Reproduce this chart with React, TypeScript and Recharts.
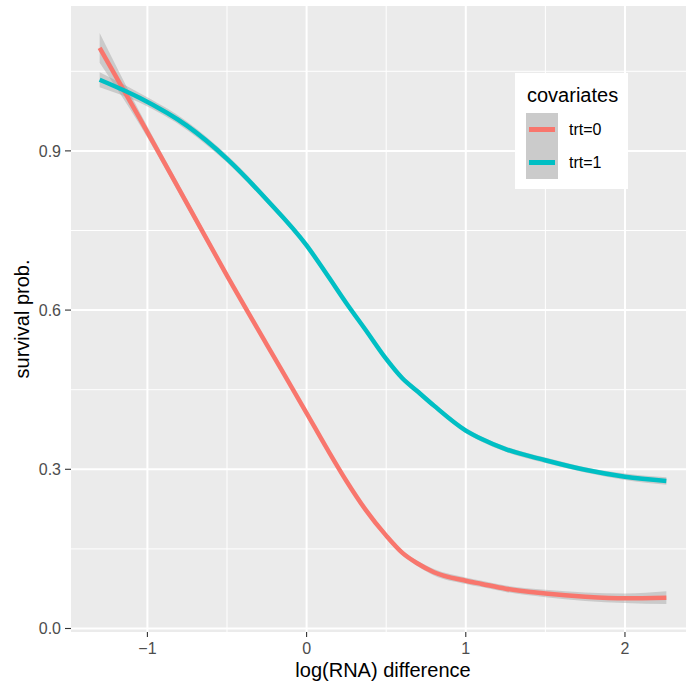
import { ComposedChart, Line, Area, XAxis, YAxis, CartesianGrid } from 'recharts';

// log(RNA) difference grid points
const xs = [-1.3, -1.05, -0.75, -0.5, -0.25, 0, 0.13, 0.25, 0.37, 0.5, 0.6, 0.7, 0.8, 1.0, 1.1, 1.25, 1.5, 1.75, 2.0, 2.26];

// survival prob. per covariate level
const trt0 = [1.094, 0.962, 0.8, 0.665, 0.535, 0.406, 0.338, 0.278, 0.224, 0.175, 0.143, 0.122, 0.106, 0.09, 0.084, 0.075, 0.066, 0.06, 0.057, 0.058];
const trt1 = [1.034, 1.0, 0.947, 0.885, 0.808, 0.722, 0.666, 0.613, 0.563, 0.508, 0.472, 0.446, 0.42, 0.373, 0.357, 0.338, 0.317, 0.299, 0.286, 0.278];

// half width of the confidence ribbons
const band0 = [0.028, 0.012, 0.008, 0.006, 0.005, 0.005, 0.005, 0.005, 0.005, 0.005, 0.005, 0.005, 0.006, 0.006, 0.006, 0.006, 0.007, 0.008, 0.009, 0.012];
const band1 = [0.014, 0.009, 0.008, 0.007, 0.006, 0.005, 0.005, 0.005, 0.005, 0.005, 0.005, 0.005, 0.005, 0.005, 0.005, 0.005, 0.005, 0.005, 0.006, 0.007];

const xTicks = [-1, 0, 1, 2];
const yTicks = [0, 0.3, 0.6, 0.9];
const xMinor = [-0.5, 0.5, 1.5];
const yMinor = [0.15, 0.45, 0.75, 1.05];

const labels = ['trt=0', 'trt=1'];
const colors = ['#F8766D', '#00BFC4'];

const data = xs.map((x, i) => ({
  x,
  trt0: trt0[i],
  trt1: trt1[i],
  band0: [trt0[i] - band0[i], trt0[i] + band0[i]],
  band1: [trt1[i] - band1[i], trt1[i] + band1[i]],
}));

const font = '"Liberation Sans", Arial, Helvetica, sans-serif';
const tickStyle = { fontSize: 16, fill: '#4D4D4D', fontFamily: font };

export default function App() {
  return (
    <div style={{ position: 'absolute', left: 0, top: 0, width: 686, height: 684, overflow: 'hidden', background: '#fff', fontFamily: font }}>
      <ComposedChart width={700} height={684} data={data} margin={{ top: 6, right: 5, bottom: 0, left: 0 }}>
        <CartesianGrid fill="#EBEBEB" stroke="#FFFFFF" strokeWidth={1} verticalValues={xMinor} horizontalValues={yMinor} />
        <CartesianGrid stroke="#FFFFFF" strokeWidth={2} verticalValues={xTicks} horizontalValues={yTicks} />
        <XAxis
          dataKey="x"
          type="number"
          domain={[-1.48, 2.44]}
          allowDataOverflow
          ticks={xTicks}
          height={52}
          axisLine={false}
          tickLine={{ stroke: '#333333', strokeWidth: 1.1 }}
          tickSize={5}
          tickMargin={6}
          tick={tickStyle}
          tickFormatter={(v: number) => (v < 0 ? '\u2212' + Math.abs(v) : String(v))}
          label={({ viewBox }: any) => (
            <text
              x={viewBox.x + viewBox.width / 2}
              y={677}
              textAnchor="middle"
              fontSize={20}
              fill="#000"
              fontFamily={font}
            >
              log(RNA) difference
            </text>
          )}
        />
        <YAxis
          type="number"
          domain={[-0.0066, 1.173]}
          allowDataOverflow
          ticks={yTicks}
          width={71}
          axisLine={false}
          tickLine={{ stroke: '#333333', strokeWidth: 1.1 }}
          tickSize={6}
          tickMargin={4}
          tick={tickStyle}
          tickFormatter={(v: number) => v.toFixed(1)}
          label={({ viewBox }: any) => (
            <text
              x={22}
              y={viewBox.y + viewBox.height / 2}
              transform={`rotate(-90, 22, ${viewBox.y + viewBox.height / 2})`}
              textAnchor="middle"
              dominantBaseline="central"
              fontSize={20}
              fill="#000"
              fontFamily={font}
            >
              survival prob.
            </text>
          )}
        />
        <Area dataKey="band0" type="monotone" fill="#999999" fillOpacity={0.4} stroke="none" isAnimationActive={false} activeDot={false} />
        <Area dataKey="band1" type="monotone" fill="#999999" fillOpacity={0.4} stroke="none" isAnimationActive={false} activeDot={false} />
        <Line dataKey="trt0" type="monotone" stroke={colors[0]} strokeWidth={4.5} dot={false} activeDot={false} isAnimationActive={false} />
        <Line dataKey="trt1" type="monotone" stroke={colors[1]} strokeWidth={4.5} dot={false} activeDot={false} isAnimationActive={false} />
      </ComposedChart>
      <div style={{ position: 'absolute', left: 515, top: 73, width: 113, height: 116, background: '#fff', boxSizing: 'border-box', padding: '10px 0 0 11px' }}>
        <div style={{ fontSize: 20, lineHeight: '24px', color: '#000', marginLeft: 1 }}>covariates</div>
        <div style={{ marginTop: 6 }}>
          {labels.map((l, i) => (
            <div key={l} style={{ display: 'flex', alignItems: 'center', height: 33 }}>
              <div style={{ width: 32, height: 33, background: '#CBCBCB', display: 'flex', alignItems: 'center', justifyContent: 'center' }}>
                <div style={{ width: 26, height: 4.5, background: colors[i] }} />
              </div>
              <span style={{ fontSize: 16, marginLeft: 11, color: '#000' }}>{l}</span>
            </div>
          ))}
        </div>
      </div>
    </div>
  );
}
